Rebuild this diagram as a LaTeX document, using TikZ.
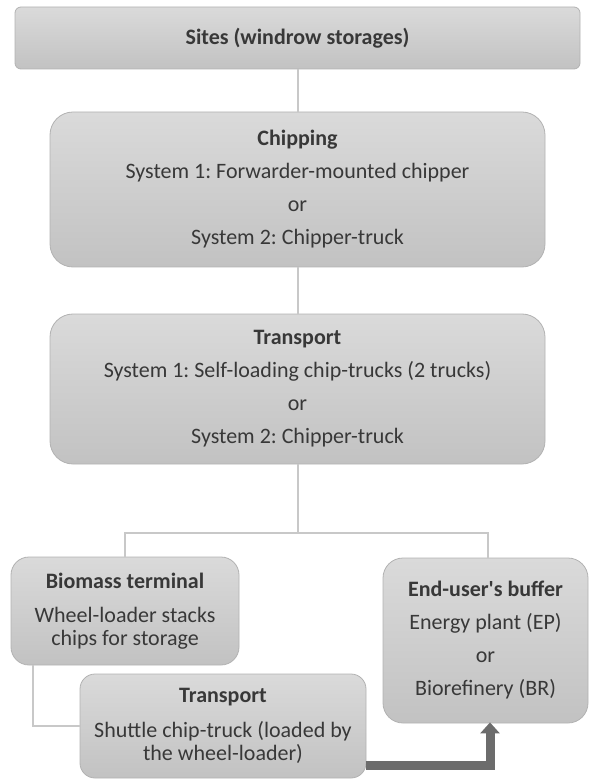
\documentclass[tikz,border=0pt]{standalone}
\usepackage{fontspec}
\setmainfont{Carlito}
\usetikzlibrary{positioning,arrows.meta}
\definecolor{boxtop}{RGB}{218,218,218}
\definecolor{boxbot}{RGB}{194,194,194}
\definecolor{boxline}{RGB}{178,178,178}
\definecolor{wire}{RGB}{200,200,200}
\definecolor{flow}{RGB}{108,108,108}
\definecolor{ink}{RGB}{56,56,56}
\frenchspacing

\begin{document}
\begin{tikzpicture}[
	on grid,
	align=center,
	font=\fontsize{11}{11.5}\selectfont,
	text=ink,
	stage/.style={
		draw=boxline,
		line width=0.4pt,
		top color=boxtop,
		bottom color=boxbot,
		rounded corners=11.5pt,
		inner sep=0pt
	},
	link/.style={draw=wire, line width=1pt},
	haul/.style={draw=flow, line width=4.5pt, -{Triangle[width=9.5pt,length=5.5pt]}}
	]

	\useasboundingbox (0,0) rectangle (295pt,-390pt);

	% main column
	\node[stage, rounded corners=3pt, minimum width=282.5pt, minimum height=31pt] (sites) at (148.75pt,-19pt) {\textbf{Sites (windrow storages)}};
	\node[stage, minimum width=247.5pt, minimum height=77.5pt, below=75.75pt of sites] (chipping) {\textbf{Chipping}\\[5pt] System 1: Forwarder-mounted chipper\\[5pt] or\\[5pt] System 2: Chipper-truck};
	\node[stage, minimum width=247.5pt, minimum height=75pt, below=99.75pt of chipping] (transport) {\textbf{Transport}\\[5pt] System 1: Self-loading chip-trucks (2 trucks)\\[5pt] or\\[5pt] System 2: Chipper-truck};

	% bottom row
	\node[stage, rounded corners=9pt, minimum width=114pt, minimum height=54pt, below left=111pt and 86.25pt of transport] (biomass) {\textbf{Biomass terminal}\\[5.5pt] Wheel-loader stacks\\ chips for storage};
	\node[stage, rounded corners=10pt, minimum width=102.5pt, minimum height=82.5pt, below right=125.75pt and 94pt of transport] (endUser) {\textbf{End-user\textquotesingle s buffer}\\[5pt] Energy plant (EP)\\[5pt] or\\[5pt] Biorefinery (BR)};
	\node[stage, rounded corners=7.5pt, minimum width=143pt, minimum height=52pt, below right=57.5pt and 49pt of biomass] (shuttle) {\textbf{Transport}\\[6pt] Shuttle chip-truck (loaded by\\ the wheel-loader)};

	\coordinate[below=34.5pt of transport.south] (split);

	\path[link]
		(sites) -- (chipping)
		(chipping) -- (transport)
		(transport) -- (split) -| (biomass)
		(split) -| ([xshift=1.25pt]endUser.north)
		([xshift=11pt]biomass.south west) |- (shuttle.west);

	\draw[haul, shorten >=-0.5pt] ([yshift=-19.5pt]shuttle.east) -| ([xshift=2.25pt]endUser.south);
\end{tikzpicture}
\end{document}
